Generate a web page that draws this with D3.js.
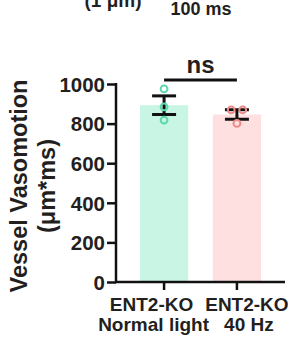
<!DOCTYPE html>
<html>
<head>
<meta charset="utf-8">
<script src="https://cdn.jsdelivr.net/npm/d3@7"></script>
<style>
  body { margin: 0; background: #fff; }
  text { font-family: "Liberation Sans", Arial, sans-serif; font-weight: bold; fill: #231f20; }
</style>
</head>
<body>
<div id="chart"></div>
<script>
// groups on the x axis (two label lines each)
const groups = ["ko_normal", "ko_40hz"];
const labelTop = ["ENT2-KO", "ENT2-KO"];
const labelBottom = ["Normal light", "40 Hz"];

// bar height (mean) and error (SEM), μm*ms
const means = [893, 846];
const sems = [47, 24];

// individual animals
const points = [
  [975, 884, 818],
  [869, 869, 801]
];

const yTicks = [0, 200, 400, 600, 800, 1000];
const barFill = ["#c9f6e4", "#fde0df"];
const dotStroke = ["#5cd9ab", "#f08a8a"];

const W = 288, H = 347;
const svg = d3.select("#chart").append("svg")
  .attr("width", W)
  .attr("height", H);

// scale bar caption from the panel above (cut at the top, as in the figure)
svg.append("text").attr("x", 113).attr("y", 7)
  .attr("text-anchor", "middle").style("font-size", "19px").text("(1 μm)");
svg.append("text").attr("x", 201).attr("y", 15)
  .attr("text-anchor", "middle").style("font-size", "18px").text("100 ms");

const x = d3.scaleBand()
  .domain(groups)
  .range([116, 285])
  .paddingInner(0.34)
  .paddingOuter(0.33);

const y = d3.scaleLinear()
  .domain([0, 1000])
  .range([282, 84]);

// bars
svg.selectAll(".bar")
  .data(groups)
  .enter().append("rect")
    .attr("x", d => x(d))
    .attr("width", x.bandwidth())
    .attr("y", (d, i) => y(means[i]))
    .attr("height", (d, i) => y(0) - y(means[i]))
    .attr("fill", (d, i) => barFill[i]);

// error bars
const capW = 24;
groups.forEach((g, i) => {
  const cx = x(g) + x.bandwidth() / 2;
  const eb = svg.append("g").attr("stroke", "#111").attr("stroke-width", 3).attr("fill", "none");
  eb.append("line").attr("x1", cx).attr("x2", cx)
    .attr("y1", y(means[i] + sems[i])).attr("y2", y(means[i] - sems[i]));
  [means[i] + sems[i], means[i] - sems[i]].forEach(v => {
    eb.append("line").attr("x1", cx - capW / 2).attr("x2", cx + capW / 2)
      .attr("y1", y(v)).attr("y2", y(v));
  });
});

// dots, with a simple dodge for values that overlap
groups.forEach((g, i) => {
  const cx = x(g) + x.bandwidth() / 2;
  const vals = points[i];
  vals.forEach((v, j) => {
    const same = vals.map((w, k) => k).filter(k => Math.abs(y(vals[k]) - y(v)) < 7);
    const pos = same.indexOf(j);
    const off = same.length > 1 ? (pos - (same.length - 1) / 2) * 11.5 : 0;
    svg.append("circle")
      .attr("cx", cx + off)
      .attr("cy", y(v))
      .attr("r", 3.4)
      .attr("fill", "none")
      .attr("stroke", dotStroke[i])
      .attr("stroke-width", 2);
  });
});

// y axis
const yAxis = svg.append("g")
  .attr("transform", "translate(116,0)")
  .call(d3.axisLeft(y).tickValues(yTicks).tickFormat(d3.format("d")).tickSize(9).tickPadding(2));
yAxis.select(".domain").attr("stroke", "#111").attr("stroke-width", 2.5)
  .attr("d", "M0," + (y(1000) - 1) + "V" + y(0));
yAxis.selectAll(".tick line").attr("stroke", "#111").attr("stroke-width", 2.5);
yAxis.selectAll(".tick text")
  .style("font-size", "20.5px").attr("fill", "#231f20").attr("dy", "0.36em");

// x axis
const xAxis = svg.append("g")
  .attr("transform", "translate(0,282)")
  .call(d3.axisBottom(x).tickSize(8).tickFormat(""));
xAxis.select(".domain").attr("stroke", "#111").attr("stroke-width", 2.5)
  .attr("d", "M115," + 0 + "H285");
xAxis.selectAll(".tick line").attr("stroke", "#111").attr("stroke-width", 2.5);

// x labels, shifted outward a little like the original
const labelShift = [-12.5, 10];
groups.forEach((g, i) => {
  const cx = x(g) + x.bandwidth() / 2 + labelShift[i];
  svg.append("text").attr("x", cx).attr("y", 310.5)
    .attr("text-anchor", "middle").style("font-size", "19px").text(labelTop[i]);
  svg.append("text").attr("x", cx + 2).attr("y", 330.5)
    .attr("text-anchor", "middle").style("font-size", "19px").text(labelBottom[i]);
});

// y title
const yt = svg.append("text")
  .attr("transform", "translate(27,186) rotate(-90)")
  .attr("text-anchor", "middle")
  .style("font-size", "23.5px");
yt.append("tspan").attr("x", 0).attr("y", 0).text("Vessel Vasomotion");
yt.append("tspan").attr("x", 0).attr("y", 28).text("(μm*ms)");

// significance bracket
const x1 = x(groups[0]) + x.bandwidth() / 2, x2 = x(groups[1]) + x.bandwidth() / 2;
svg.append("line").attr("x1", x1).attr("x2", x2).attr("y1", 80).attr("y2", 80)
  .attr("stroke", "#111").attr("stroke-width", 3);
svg.append("text").attr("x", (x1 + x2) / 2).attr("y", 73)
  .attr("text-anchor", "middle").style("font-size", "24px").text("ns");
</script>
</body>
</html>
